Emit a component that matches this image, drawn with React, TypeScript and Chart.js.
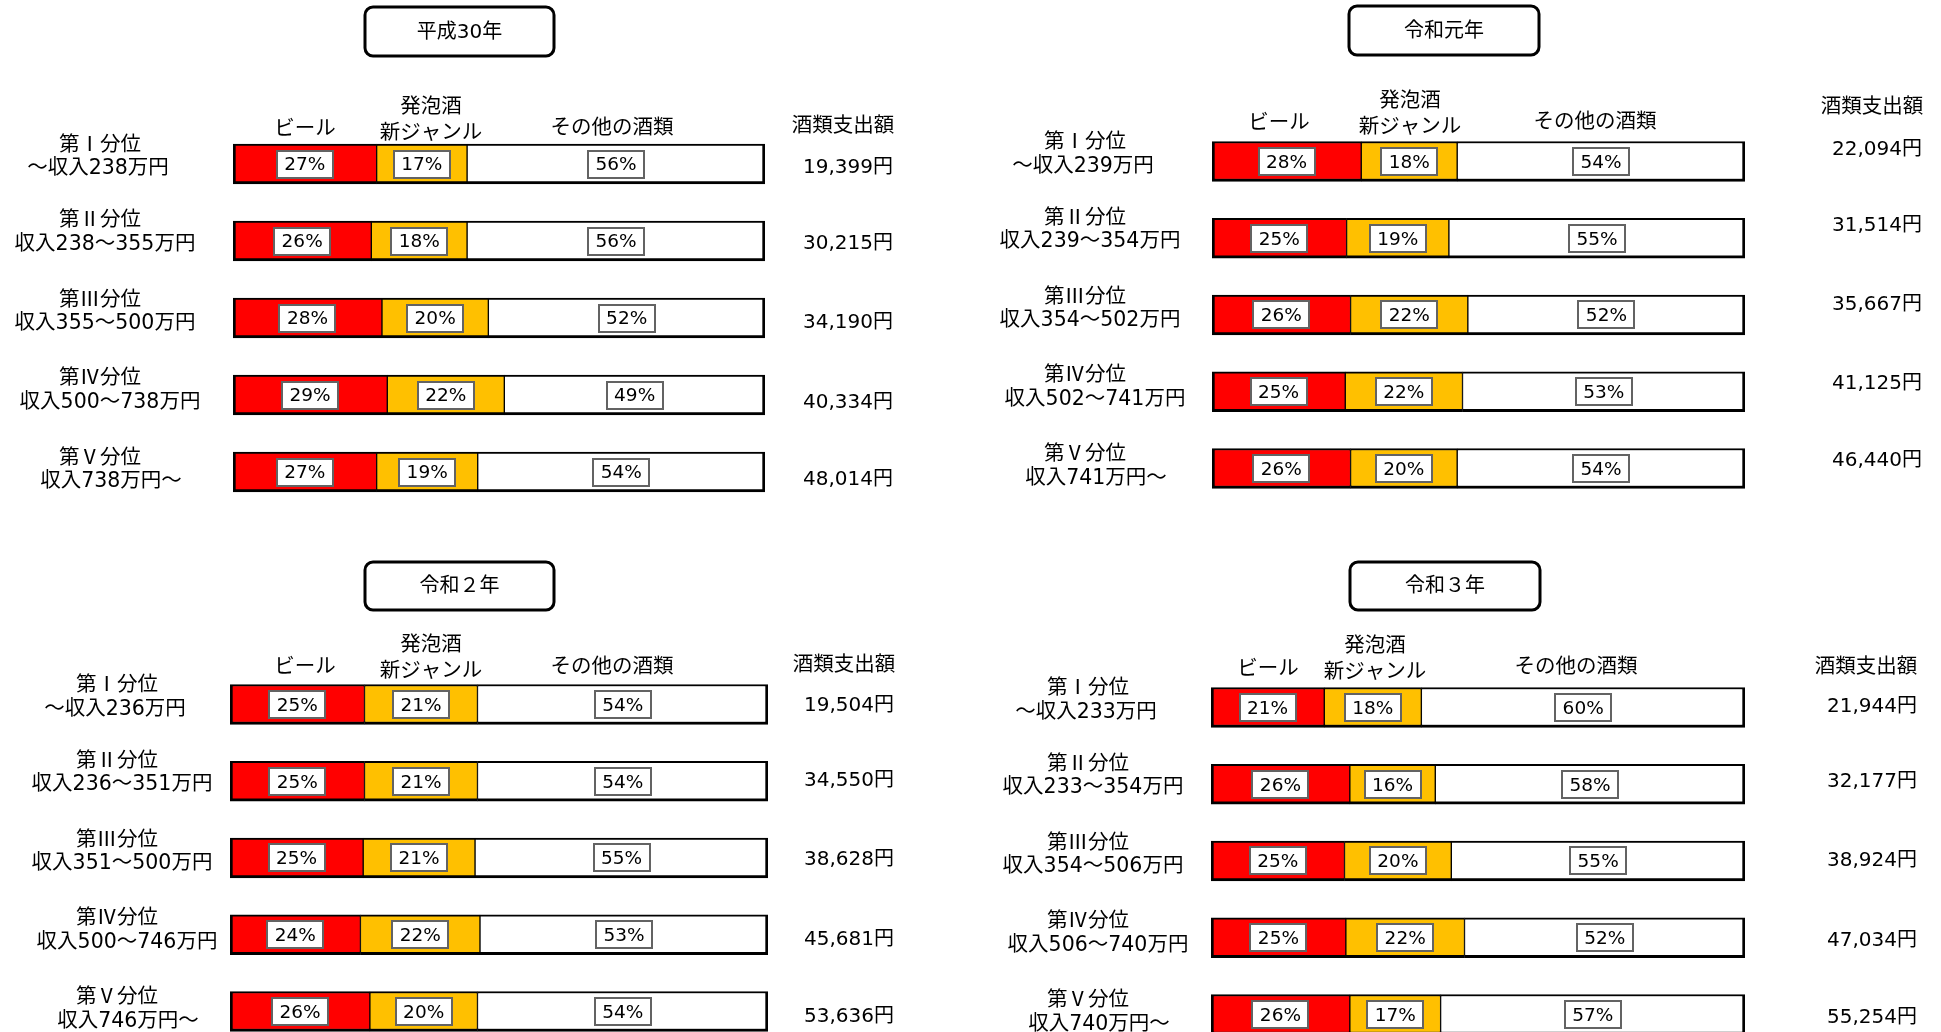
import React, { useEffect, useRef } from "react";
import { Chart, registerables } from "chart.js";

Chart.register(...registerables);

// ---------- data ----------
const YEARS = ["平成30年", "令和元年", "令和２年", "令和３年"];
const QUINTILES = ["第Ⅰ分位", "第Ⅱ分位", "第Ⅲ分位", "第Ⅳ分位", "第Ⅴ分位"];
const BEER_LABEL = "ビール";
const HAPPO_LABEL = ["発泡酒", "新ジャンル"];
const OTHER_LABEL = "その他の酒類";
const SPEND_LABEL = "酒類支出額";

const INCOME_H30 = ["～収入238万円", "収入238～355万円", "収入355～500万円", "収入500～738万円", "収入738万円～"];
const INCOME_R1 = ["～収入239万円", "収入239～354万円", "収入354～502万円", "収入502～741万円", "収入741万円～"];
const INCOME_R2 = ["～収入236万円", "収入236～351万円", "収入351～500万円", "収入500～746万円", "収入746万円～"];
const INCOME_R3 = ["～収入233万円", "収入233～354万円", "収入354～506万円", "収入506～740万円", "収入740万円～"];

const BEER_H30 = [27, 26, 28, 29, 27];
const HAPPO_H30 = [17, 18, 20, 22, 19];
const OTHER_H30 = [56, 56, 52, 49, 54];
const SPEND_H30 = ["19,399円", "30,215円", "34,190円", "40,334円", "48,014円"];

const BEER_R1 = [28, 25, 26, 25, 26];
const HAPPO_R1 = [18, 19, 22, 22, 20];
const OTHER_R1 = [54, 55, 52, 53, 54];
const SPEND_R1 = ["22,094円", "31,514円", "35,667円", "41,125円", "46,440円"];

const BEER_R2 = [25, 25, 25, 24, 26];
const HAPPO_R2 = [21, 21, 21, 22, 20];
const OTHER_R2 = [54, 54, 55, 53, 54];
const SPEND_R2 = ["19,504円", "34,550円", "38,628円", "45,681円", "53,636円"];

const BEER_R3 = [21, 26, 25, 25, 26];
const HAPPO_R3 = [18, 16, 20, 22, 17];
const OTHER_R3 = [60, 58, 55, 52, 57];
const SPEND_R3 = ["21,944円", "32,177円", "38,924円", "47,034円", "55,254円"];

const PANEL_DATA = [
  { year: YEARS[0], income: INCOME_H30, beer: BEER_H30, happo: HAPPO_H30, other: OTHER_H30, spend: SPEND_H30 },
  { year: YEARS[1], income: INCOME_R1, beer: BEER_R1, happo: HAPPO_R1, other: OTHER_R1, spend: SPEND_R1 },
  { year: YEARS[2], income: INCOME_R2, beer: BEER_R2, happo: HAPPO_R2, other: OTHER_R2, spend: SPEND_R2 },
  { year: YEARS[3], income: INCOME_R3, beer: BEER_R3, happo: HAPPO_R3, other: OTHER_R3, spend: SPEND_R3 },
];

// ---------- layout (positions only) ----------
const LAYOUTS = [
  { ox: 0, oy: 0, w: 970, h: 516, left: 233, right: 765, top: 125.5, pitch: 77, labelX: 103, valueX: 848, valueDy: 1.5,
    title: [365, 7, 554, 56], beerH: [305, 126], happoH: [431, 104, 130], otherH: [612, 125], spendH: [843, 123] },
  { ox: 970, oy: 0, w: 971, h: 516, left: 1212, right: 1745, top: 123.1, pitch: 76.75, labelX: 1088, valueX: 1877, valueDy: -14,
    title: [1349, 6, 1539, 55], beerH: [1279, 120], happoH: [1410, 98, 124], otherH: [1595, 119], spendH: [1872, 104] },
  { ox: 0, oy: 516, w: 970, h: 540, left: 230, right: 768, top: 666.1, pitch: 76.75, labelX: 120, valueX: 849, valueDy: -1.5,
    title: [365, 562, 554, 610], beerH: [305, 664], happoH: [431, 642, 668], otherH: [612, 664], spendH: [844, 662] },
  { ox: 970, oy: 516, w: 971, h: 540, left: 1211, right: 1745, top: 669.1, pitch: 76.75, labelX: 1091, valueX: 1872, valueDy: -3.5,
    title: [1350, 562, 1540, 610], beerH: [1268, 666], happoH: [1375, 643, 669], otherH: [1576, 664], spendH: [1866, 664] },
];
const LINE1_DY = [-23, -24.5, -22, -20.5, -18];
const LINE_GAP = 26;
const LINE2_DX = [-5, 2, 2, 7, 8];
const VALUE_ROW_DY = [0, -1, 1, 4, 4];
const TEXT_SHIFT = 2.5; // visual baseline correction
const HEADER_SHIFT = 3.5;

const FONT_LATIN = '"DejaVu Sans", "Noto Sans CJK JP", sans-serif';
const FONT_CJK = '"Noto Sans CJK JP", "DejaVu Sans", sans-serif';

function makeDecor(idx: number) {
  const L = LAYOUTS[idx];
  const D = PANEL_DATA[idx];
  const raw = [D.beer, D.happo, D.other];
  const gx = (x: number) => x - L.ox;
  const gy = (y: number) => y - L.oy;
  return {
    id: "decor" + idx,
    afterDatasetsDraw(chart: any) {
      const ctx = chart.ctx;
      ctx.save();
      chart.data.datasets.forEach((_: any, di: number) => {
        const meta = chart.getDatasetMeta(di);
        meta.data.forEach((bar: any, i: number) => {
          const { x, base, y } = bar.getProps(["x", "base", "y"], true);
          const cx = (x + base) / 2;
          const bw = 58, bh = 29;
          const bx = Math.round(cx - bw / 2), by = Math.round(y - bh / 2);
          ctx.fillStyle = "#ffffff";
          ctx.fillRect(bx, by, bw, bh);
          ctx.strokeStyle = "#636363";
          ctx.lineWidth = 2;
          ctx.strokeRect(bx + 1, by + 1, bw - 2, bh - 2);
          ctx.fillStyle = "#000000";
          ctx.font = "18.5px " + FONT_LATIN;
          ctx.textAlign = "center";
          ctx.textBaseline = "middle";
          ctx.fillText(raw[di][i] + "%", cx, y + 1.5);
        });
      });
      ctx.restore();
    },
    afterDraw(chart: any) {
      const ctx = chart.ctx;
      const yScale = chart.scales.y;
      ctx.save();
      ctx.fillStyle = "#000000";
      ctx.textAlign = "center";
      ctx.textBaseline = "middle";

      // title box
      const [x1, y1, x2, y2] = L.title;
      ctx.beginPath();
      ctx.roundRect(gx(x1), gy(y1), x2 - x1, y2 - y1, 8);
      ctx.fillStyle = "#ffffff";
      ctx.fill();
      ctx.lineWidth = 3;
      ctx.strokeStyle = "#000000";
      ctx.stroke();
      ctx.fillStyle = "#000000";
      ctx.font = "20px " + FONT_LATIN;
      ctx.fillText(D.year, gx((x1 + x2) / 2), gy((y1 + y2) / 2) + 1);

      // column headers
      ctx.font = "20.5px " + FONT_LATIN;
      ctx.fillText(BEER_LABEL, gx(L.beerH[0]), gy(L.beerH[1]) + HEADER_SHIFT);
      ctx.fillText(HAPPO_LABEL[0], gx(L.happoH[0]), gy(L.happoH[1]) + HEADER_SHIFT);
      ctx.fillText(HAPPO_LABEL[1], gx(L.happoH[0]), gy(L.happoH[2]) + HEADER_SHIFT);
      ctx.fillText(OTHER_LABEL, gx(L.otherH[0]), gy(L.otherH[1]) + HEADER_SHIFT);
      ctx.fillText(SPEND_LABEL, gx(L.spendH[0]), gy(L.spendH[1]) + HEADER_SHIFT);

      // row labels and values
      QUINTILES.forEach((q, i) => {
        const cy = yScale.getPixelForValue(i);
        ctx.font = "20.5px " + FONT_CJK;
        ctx.fillText(q, gx(L.labelX - 3), cy + LINE1_DY[i] + 2);
        ctx.font = "20.5px " + FONT_LATIN;
        ctx.fillText(D.income[i], gx(L.labelX + LINE2_DX[i]), cy + LINE1_DY[i] + LINE_GAP + 2);
        ctx.font = "20px " + FONT_LATIN;
        ctx.fillText(D.spend[i], gx(L.valueX), cy + L.valueDy + VALUE_ROW_DY[i] + TEXT_SHIFT);
      });
      ctx.restore();
    },
  };
}

function Panel({ idx }: { idx: number }) {
  const ref = useRef<HTMLCanvasElement>(null);
  const L = LAYOUTS[idx];
  useEffect(() => {
    const D = PANEL_DATA[idx];
    const sums = D.beer.map((b, i) => b + D.happo[i] + D.other[i]);
    const norm = (arr: number[]) => arr.map((v, i) => (v / sums[i]) * 100);
    const top = L.top;
    const bottom = L.top + 5 * L.pitch;
    const common = { borderColor: "#000000", borderSkipped: false, barThickness: 40 };
    const chart = new Chart(ref.current as HTMLCanvasElement, {
      type: "bar",
      data: {
        labels: QUINTILES,
        datasets: [
          { label: BEER_LABEL, data: norm(D.beer), backgroundColor: "#FF0000", borderWidth: { top: 2, bottom: 3, left: 3, right: 1 }, ...common },
          { label: HAPPO_LABEL.join(""), data: norm(D.happo), backgroundColor: "#FFC000", borderWidth: { top: 2, bottom: 3, left: 1, right: 1 }, ...common },
          { label: OTHER_LABEL, data: norm(D.other), backgroundColor: "#FFFFFF", borderWidth: { top: 2, bottom: 3, left: 1, right: 3 }, ...common },
        ] as any,
      },
      options: {
        indexAxis: "y",
        responsive: false,
        maintainAspectRatio: false,
        animation: false,
        layout: {
          padding: {
            left: L.left - L.ox,
            right: L.ox + L.w - L.right,
            top: top - L.oy,
            bottom: L.oy + L.h - bottom,
          },
        },
        scales: {
          x: { stacked: true, min: 0, max: 100, display: false },
          y: { stacked: true, display: false },
        },
        plugins: { legend: { display: false }, tooltip: { enabled: false }, title: { display: false } },
      } as any,
      plugins: [makeDecor(idx)],
    });
    return () => chart.destroy();
  }, [idx]);
  return (
    <canvas
      ref={ref}
      width={L.w}
      height={L.h}
      style={{ position: "absolute", left: L.ox, top: L.oy, width: L.w, height: L.h }}
    />
  );
}

export default function App() {
  return (
    <div style={{ position: "fixed", left: 0, top: 0, width: 1941, height: 1032, overflow: "hidden", background: "#ffffff" }}>
      {LAYOUTS.map((_, i) => (
        <Panel key={i} idx={i} />
      ))}
    </div>
  );
}
